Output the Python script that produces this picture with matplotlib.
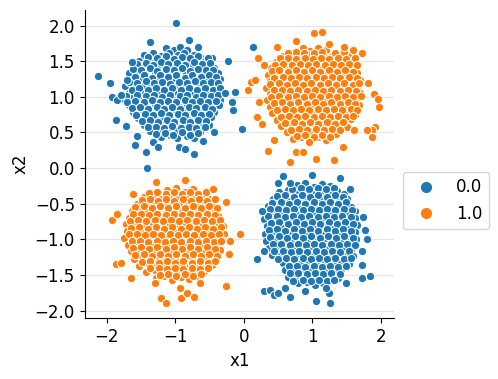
#!/usr/bin/env python3
#encoding: utf-8

import matplotlib
matplotlib.use("Agg")
import matplotlib.pyplot as plt
from matplotlib.lines import Line2D
import numpy as np

# ---------------------------------------------------------------------------
# DATA
# ---------------------------------------------------------------------------
# top-left cluster, class 0.0
top_left = [
    (-1.13, 1.69), (-1.01, 1.66), (-0.93, 1.70), (-0.83, 1.65),
    (-1.46, 1.58), (-1.33, 1.62), (-1.20, 1.57), (-1.09, 1.61), (-0.96, 1.58), (-0.87, 1.62), (-0.73, 1.59), (-0.63, 1.56),
    (-1.53, 1.50), (-1.39, 1.54), (-1.29, 1.49), (-1.16, 1.53), (-1.06, 1.50), (-0.92, 1.54), (-0.80, 1.49), (-0.71, 1.53), (-0.56, 1.50), (-0.46, 1.54),
    (-1.61, 1.42), (-1.47, 1.45), (-1.38, 1.40), (-1.24, 1.44), (-1.15, 1.41), (-1.00, 1.45), (-0.91, 1.41), (-0.77, 1.44), (-0.67, 1.40), (-0.54, 1.45), (-0.43, 1.41),
    (-1.67, 1.33), (-1.54, 1.36), (-1.44, 1.31), (-1.30, 1.35), (-1.21, 1.32), (-1.07, 1.36), (-0.97, 1.31), (-0.84, 1.35), (-0.74, 1.32), (-0.60, 1.36), (-0.51, 1.31), (-0.37, 1.34),
    (-1.63, 1.24), (-1.50, 1.27), (-1.40, 1.22), (-1.26, 1.26), (-1.16, 1.23), (-1.02, 1.27), (-0.93, 1.22), (-0.79, 1.26), (-0.69, 1.23), (-0.56, 1.27), (-0.46, 1.22), (-0.35, 1.25),
    (-1.73, 1.15), (-1.59, 1.18), (-1.49, 1.14), (-1.35, 1.17), (-1.25, 1.13), (-1.11, 1.18), (-1.01, 1.14), (-0.87, 1.17), (-0.78, 1.13), (-0.63, 1.17), (-0.54, 1.14), (-0.40, 1.17),
    (-1.68, 1.06), (-1.58, 1.09), (-1.44, 1.05), (-1.34, 1.08), (-1.20, 1.04), (-1.10, 1.09), (-0.96, 1.05), (-0.86, 1.08), (-0.72, 1.04), (-0.62, 1.09), (-0.49, 1.05), (-0.40, 1.08), (-0.31, 1.04),
    (-1.75, 0.97), (-1.61, 1.00), (-1.51, 0.96), (-1.37, 0.99), (-1.27, 0.95), (-1.13, 1.00), (-1.03, 0.96), (-0.89, 0.99), (-0.79, 0.95), (-0.65, 0.99), (-0.56, 0.96), (-0.43, 0.99), (-0.34, 0.96),
    (-1.67, 0.88), (-1.54, 0.91), (-1.44, 0.87), (-1.30, 0.90), (-1.20, 0.86), (-1.06, 0.91), (-0.96, 0.87), (-0.82, 0.90), (-0.72, 0.86), (-0.59, 0.90), (-0.49, 0.87), (-0.36, 0.89),
    (-1.61, 0.79), (-1.47, 0.82), (-1.37, 0.78), (-1.23, 0.81), (-1.13, 0.77), (-0.99, 0.82), (-0.89, 0.78), (-0.75, 0.81), (-0.65, 0.77), (-0.51, 0.81), (-0.43, 0.78),
    (-1.54, 0.70), (-1.40, 0.73), (-1.30, 0.69), (-1.16, 0.72), (-1.06, 0.68), (-0.92, 0.72), (-0.82, 0.69), (-0.68, 0.72), (-0.58, 0.68), (-0.47, 0.71),
    (-1.46, 0.61), (-1.32, 0.64), (-1.22, 0.60), (-1.08, 0.63), (-0.98, 0.59), (-0.84, 0.63), (-0.74, 0.60), (-0.60, 0.63), (-0.51, 0.60),
    (-1.36, 0.52), (-1.22, 0.55), (-1.12, 0.51), (-0.98, 0.54), (-0.88, 0.50), (-0.74, 0.54), (-0.64, 0.51),
    (-1.21, 0.43), (-1.07, 0.46), (-0.97, 0.42), (-0.83, 0.45), (-0.72, 0.42),
    # fill
    (-1.40, 1.56), (-1.27, 1.54), (-1.14, 1.57), (-1.02, 1.53), (-0.90, 1.56), (-0.78, 1.54), (-0.66, 1.57), (-0.52, 1.55),
    (-1.56, 1.46), (-1.43, 1.48), (-1.32, 1.45), (-1.20, 1.49), (-1.10, 1.46), (-0.97, 1.48), (-0.85, 1.45), (-0.73, 1.49), (-0.61, 1.46), (-0.49, 1.48),
    (-1.62, 1.39), (-1.50, 1.37), (-1.37, 1.40), (-1.26, 1.36), (-1.13, 1.39), (-1.02, 1.37), (-0.90, 1.40), (-0.79, 1.36), (-0.66, 1.39), (-0.55, 1.37), (-0.44, 1.38),
    (-1.58, 1.28), (-1.46, 1.30), (-1.34, 1.27), (-1.22, 1.30), (-1.10, 1.28), (-0.98, 1.31), (-0.86, 1.27), (-0.75, 1.30), (-0.62, 1.28), (-0.51, 1.30), (-0.40, 1.28),
    (-1.67, 1.21), (-1.55, 1.19), (-1.43, 1.22), (-1.31, 1.19), (-1.19, 1.21), (-1.07, 1.18), (-0.95, 1.21), (-0.83, 1.19), (-0.71, 1.22), (-0.60, 1.19), (-0.48, 1.21), (-0.38, 1.19),
    (-1.63, 1.10), (-1.52, 1.12), (-1.40, 1.10), (-1.28, 1.13), (-1.16, 1.10), (-1.04, 1.12), (-0.92, 1.10), (-0.80, 1.12), (-0.68, 1.10), (-0.57, 1.13), (-0.45, 1.10), (-0.35, 1.12),
    (-1.71, 1.01), (-1.56, 1.03), (-1.43, 1.01), (-1.31, 1.03), (-1.19, 1.00), (-1.07, 1.03), (-0.93, 1.01), (-0.83, 1.03), (-0.70, 1.00), (-0.59, 1.03), (-0.47, 1.01), (-0.37, 1.02),
    (-1.70, 0.93), (-1.58, 0.94), (-1.46, 0.92), (-1.34, 0.95), (-1.22, 0.92), (-1.10, 0.94), (-0.99, 0.92), (-0.86, 0.95), (-0.75, 0.92), (-0.63, 0.94), (-0.52, 0.92), (-0.40, 0.94),
    (-1.63, 0.84), (-1.51, 0.85), (-1.40, 0.83), (-1.27, 0.86), (-1.16, 0.83), (-1.04, 0.85), (-0.93, 0.83), (-0.80, 0.86), (-0.69, 0.84), (-0.56, 0.85), (-0.46, 0.83),
    (-1.57, 0.75), (-1.44, 0.76), (-1.33, 0.74), (-1.20, 0.77), (-1.09, 0.74), (-0.96, 0.76), (-0.85, 0.74), (-0.72, 0.77), (-0.62, 0.74), (-0.50, 0.76),
    (-1.49, 0.66), (-1.36, 0.67), (-1.25, 0.65), (-1.12, 0.68), (-1.02, 0.65), (-0.89, 0.67), (-0.78, 0.65), (-0.66, 0.68), (-0.55, 0.66),
    (-1.40, 0.57), (-1.28, 0.58), (-1.16, 0.56), (-1.04, 0.59), (-0.92, 0.56), (-0.80, 0.58), (-0.69, 0.56), (-0.57, 0.58),
    (-1.28, 0.48), (-1.15, 0.49), (-1.03, 0.47), (-0.90, 0.50), (-0.78, 0.47), (-0.67, 0.49),
    # stragglers
    (-0.99, 2.03), (-2.13, 1.29), (-1.95, 1.20), (-1.92, 0.99), (-1.85, 0.96), (-1.79, 1.03), (-1.70, 1.23),
    (-1.86, 0.68), (-1.72, 0.59), (-1.58, 0.32), (-1.42, 0.23), (-1.41, 0.00), (-1.33, 0.36), (-1.36, 1.77),
    (-0.80, 1.80), (-0.67, 1.70), (-0.23, 1.50), (-0.13, 1.07), (-0.16, 0.82), (-0.02, 0.55), (-0.73, 0.19),
    (-0.43, 0.50), (-1.63, 1.49), (-0.27, 1.06), (0.13, 1.70), (-0.17, 0.92), (-1.55, 0.45), (-1.25, 0.30),
    (-0.95, 0.30), (-0.85, 0.27), (-0.60, 0.38),
]

# bottom-right cluster, class 0.0
bottom_right = [
    (0.78, -0.24), (0.90, -0.21), (1.02, -0.26), (1.14, -0.22), (1.26, -0.25),
    (0.52, -0.34), (0.64, -0.31), (0.76, -0.36), (0.88, -0.32), (1.00, -0.37), (1.12, -0.33), (1.24, -0.36), (1.36, -0.32), (1.46, -0.36),
    (0.43, -0.44), (0.55, -0.41), (0.67, -0.46), (0.79, -0.42), (0.91, -0.47), (1.03, -0.43), (1.15, -0.46), (1.27, -0.42), (1.39, -0.47), (1.51, -0.43),
    (0.36, -0.53), (0.48, -0.50), (0.60, -0.55), (0.72, -0.51), (0.84, -0.56), (0.96, -0.52), (1.08, -0.55), (1.20, -0.51), (1.32, -0.56), (1.44, -0.52), (1.56, -0.55),
    (0.32, -0.63), (0.44, -0.60), (0.56, -0.65), (0.68, -0.61), (0.80, -0.66), (0.92, -0.62), (1.04, -0.65), (1.16, -0.61), (1.28, -0.66), (1.40, -0.62), (1.52, -0.65), (1.62, -0.61),
    (0.30, -0.72), (0.42, -0.69), (0.54, -0.74), (0.66, -0.70), (0.78, -0.75), (0.90, -0.71), (1.02, -0.74), (1.14, -0.70), (1.26, -0.75), (1.38, -0.71), (1.50, -0.74), (1.62, -0.70),
    (0.34, -0.82), (0.46, -0.79), (0.58, -0.84), (0.70, -0.80), (0.82, -0.85), (0.94, -0.81), (1.06, -0.84), (1.18, -0.80), (1.30, -0.85), (1.42, -0.81), (1.54, -0.84), (1.65, -0.80),
    (0.31, -0.92), (0.43, -0.89), (0.55, -0.94), (0.67, -0.90), (0.79, -0.95), (0.91, -0.91), (1.03, -0.94), (1.15, -0.90), (1.27, -0.95), (1.39, -0.91), (1.51, -0.94), (1.63, -0.90),
    (0.33, -1.02), (0.45, -0.99), (0.57, -1.04), (0.69, -1.00), (0.81, -1.05), (0.93, -1.01), (1.05, -1.04), (1.17, -1.00), (1.29, -1.05), (1.41, -1.01), (1.53, -1.04), (1.64, -1.00),
    (0.37, -1.12), (0.49, -1.09), (0.61, -1.14), (0.73, -1.10), (0.85, -1.15), (0.97, -1.11), (1.09, -1.14), (1.21, -1.10), (1.33, -1.15), (1.45, -1.11), (1.57, -1.14),
    (0.41, -1.22), (0.53, -1.19), (0.65, -1.24), (0.77, -1.20), (0.89, -1.25), (1.01, -1.21), (1.13, -1.24), (1.25, -1.20), (1.37, -1.25), (1.49, -1.21), (1.60, -1.24),
    (0.58, -1.33), (0.70, -1.30), (0.82, -1.35), (0.94, -1.31), (1.06, -1.36), (1.18, -1.32), (1.30, -1.35), (1.42, -1.31), (1.53, -1.35),
    (0.60, -1.43), (0.72, -1.40), (0.84, -1.45), (0.96, -1.41), (1.08, -1.46), (1.20, -1.42), (1.32, -1.45), (1.44, -1.41),
    (0.65, -1.53), (0.77, -1.50), (0.89, -1.55), (1.01, -1.51), (1.13, -1.56), (1.25, -1.52), (1.37, -1.55),
    (0.80, -1.62), (0.92, -1.60), (1.04, -1.64), (1.16, -1.61),
    # fill
    (0.70, -0.29), (0.84, -0.28), (0.96, -0.30), (1.08, -0.28), (1.20, -0.30), (1.32, -0.28),
    (0.49, -0.39), (0.61, -0.38), (0.73, -0.40), (0.85, -0.38), (0.97, -0.40), (1.09, -0.38), (1.21, -0.40), (1.33, -0.38), (1.45, -0.40),
    (0.42, -0.49), (0.54, -0.48), (0.66, -0.50), (0.78, -0.48), (0.90, -0.50), (1.02, -0.48), (1.14, -0.50), (1.26, -0.48), (1.38, -0.50), (1.50, -0.48),
    (0.38, -0.58), (0.50, -0.57), (0.62, -0.59), (0.74, -0.57), (0.86, -0.59), (0.98, -0.57), (1.10, -0.59), (1.22, -0.57), (1.34, -0.59), (1.46, -0.57), (1.58, -0.59),
    (0.36, -0.68), (0.48, -0.67), (0.60, -0.69), (0.72, -0.67), (0.84, -0.69), (0.96, -0.67), (1.08, -0.69), (1.20, -0.67), (1.32, -0.69), (1.44, -0.67), (1.56, -0.69),
    (0.40, -0.77), (0.52, -0.76), (0.64, -0.78), (0.76, -0.76), (0.88, -0.78), (1.00, -0.76), (1.12, -0.78), (1.24, -0.76), (1.36, -0.78), (1.48, -0.76), (1.60, -0.78),
    (0.37, -0.87), (0.49, -0.86), (0.61, -0.88), (0.73, -0.86), (0.85, -0.88), (0.97, -0.86), (1.09, -0.88), (1.21, -0.86), (1.33, -0.88), (1.45, -0.86), (1.57, -0.88),
    (0.39, -0.97), (0.51, -0.96), (0.63, -0.98), (0.75, -0.96), (0.87, -0.98), (0.99, -0.96), (1.11, -0.98), (1.23, -0.96), (1.35, -0.98), (1.47, -0.96), (1.59, -0.98),
    (0.43, -1.07), (0.55, -1.06), (0.67, -1.08), (0.79, -1.06), (0.91, -1.08), (1.03, -1.06), (1.15, -1.08), (1.27, -1.06), (1.39, -1.08), (1.51, -1.06), (1.62, -1.08),
    (0.45, -1.17), (0.57, -1.16), (0.69, -1.18), (0.81, -1.16), (0.93, -1.18), (1.05, -1.16), (1.17, -1.18), (1.29, -1.16), (1.41, -1.18), (1.53, -1.16),
    (0.50, -1.27), (0.62, -1.26), (0.74, -1.28), (0.86, -1.26), (0.98, -1.28), (1.10, -1.26), (1.22, -1.28), (1.34, -1.26), (1.46, -1.28), (1.57, -1.26),
    (0.66, -1.38), (0.78, -1.37), (0.90, -1.39), (1.02, -1.37), (1.14, -1.39), (1.26, -1.37), (1.38, -1.39), (1.49, -1.37),
    (0.68, -1.48), (0.80, -1.47), (0.92, -1.49), (1.04, -1.47), (1.16, -1.49), (1.28, -1.47), (1.40, -1.49),
    (0.72, -1.58), (0.86, -1.57), (0.98, -1.59), (1.10, -1.57), (1.22, -1.59), (1.32, -1.57),
    # stragglers
    (0.58, -0.11), (1.00, -0.10), (1.41, -0.14), (0.50, -0.21), (0.67, -0.21), (0.27, -0.60), (0.19, -1.27),
    (0.29, -1.16), (0.29, -1.72), (0.39, -1.71), (0.44, -1.78), (0.50, -1.75), (0.60, -1.68), (0.68, -1.81),
    (1.06, -1.86), (1.26, -1.89), (1.73, -1.54), (1.85, -1.52), (1.74, -0.69), (1.77, -0.87), (1.80, -0.99),
    (1.73, -1.17), (1.72, -1.36), (1.24, -1.76), (1.20, -1.69), (1.55, -0.30), (1.50, -1.62), (0.90, -1.72),
]

# top-right cluster, class 1.0
top_right = [
    (0.86, 1.68), (0.97, 1.64), (1.08, 1.69), (1.20, 1.65),
    (0.58, 1.57), (0.70, 1.61), (0.81, 1.56), (0.93, 1.60), (1.05, 1.55), (1.16, 1.59), (1.28, 1.56), (1.40, 1.60), (1.52, 1.57),
    (0.47, 1.49), (0.59, 1.52), (0.71, 1.47), (0.83, 1.51), (0.95, 1.46), (1.07, 1.50), (1.19, 1.47), (1.31, 1.51), (1.43, 1.46), (1.56, 1.50),
    (0.40, 1.40), (0.52, 1.43), (0.64, 1.38), (0.76, 1.42), (0.88, 1.37), (1.00, 1.41), (1.12, 1.38), (1.24, 1.42), (1.36, 1.37), (1.48, 1.41), (1.60, 1.38),
    (0.35, 1.31), (0.46, 1.34), (0.58, 1.29), (0.70, 1.33), (0.82, 1.28), (0.94, 1.32), (1.06, 1.29), (1.18, 1.33), (1.30, 1.28), (1.42, 1.32), (1.54, 1.29), (1.66, 1.33),
    (0.39, 1.22), (0.51, 1.25), (0.63, 1.20), (0.75, 1.24), (0.87, 1.19), (0.99, 1.23), (1.11, 1.20), (1.23, 1.24), (1.35, 1.19), (1.47, 1.23), (1.59, 1.20), (1.70, 1.24),
    (0.33, 1.13), (0.45, 1.16), (0.57, 1.11), (0.69, 1.15), (0.81, 1.10), (0.93, 1.14), (1.05, 1.11), (1.17, 1.15), (1.29, 1.10), (1.41, 1.14), (1.53, 1.11), (1.65, 1.15),
    (0.38, 1.04), (0.50, 1.07), (0.62, 1.02), (0.74, 1.06), (0.86, 1.01), (0.98, 1.05), (1.10, 1.02), (1.22, 1.06), (1.34, 1.01), (1.46, 1.05), (1.58, 1.02), (1.70, 1.06),
    (0.34, 0.95), (0.46, 0.98), (0.58, 0.93), (0.70, 0.97), (0.82, 0.92), (0.94, 0.96), (1.06, 0.93), (1.18, 0.97), (1.30, 0.92), (1.42, 0.96), (1.54, 0.93), (1.66, 0.97),
    (0.38, 0.86), (0.50, 0.89), (0.62, 0.84), (0.74, 0.88), (0.86, 0.83), (0.98, 0.87), (1.10, 0.84), (1.22, 0.88), (1.34, 0.83), (1.46, 0.87), (1.58, 0.84), (1.68, 0.88),
    (0.42, 0.77), (0.54, 0.80), (0.66, 0.75), (0.78, 0.79), (0.90, 0.74), (1.02, 0.78), (1.14, 0.75), (1.26, 0.79), (1.38, 0.74), (1.50, 0.78), (1.62, 0.75),
    (0.48, 0.68), (0.60, 0.71), (0.72, 0.66), (0.84, 0.70), (0.96, 0.65), (1.08, 0.69), (1.20, 0.66), (1.32, 0.70), (1.44, 0.65), (1.56, 0.69),
    (0.55, 0.59), (0.67, 0.62), (0.79, 0.57), (0.91, 0.61), (1.03, 0.56), (1.15, 0.60), (1.27, 0.57), (1.39, 0.61), (1.51, 0.58),
    (0.63, 0.50), (0.75, 0.53), (0.87, 0.48), (0.99, 0.52), (1.11, 0.47), (1.23, 0.51), (1.35, 0.48),
    (0.72, 0.41), (0.84, 0.44), (0.96, 0.39), (1.08, 0.43), (1.20, 0.40),
    # fill
    (0.64, 1.62), (0.76, 1.63), (0.88, 1.61), (1.02, 1.62), (1.14, 1.63), (1.34, 1.62), (1.46, 1.63),
    (0.53, 1.54), (0.65, 1.55), (0.77, 1.53), (0.89, 1.55), (1.01, 1.53), (1.13, 1.55), (1.25, 1.53), (1.37, 1.55), (1.49, 1.53), (1.62, 1.54),
    (0.46, 1.45), (0.58, 1.46), (0.70, 1.44), (0.82, 1.46), (0.94, 1.44), (1.06, 1.46), (1.18, 1.44), (1.30, 1.46), (1.42, 1.44), (1.54, 1.46), (1.65, 1.44),
    (0.41, 1.36), (0.52, 1.37), (0.64, 1.35), (0.76, 1.37), (0.88, 1.35), (1.00, 1.37), (1.12, 1.35), (1.24, 1.37), (1.36, 1.35), (1.48, 1.37), (1.60, 1.35),
    (0.45, 1.27), (0.57, 1.28), (0.69, 1.26), (0.81, 1.28), (0.93, 1.26), (1.05, 1.28), (1.17, 1.26), (1.29, 1.28), (1.41, 1.26), (1.53, 1.28), (1.65, 1.26),
    (0.39, 1.18), (0.51, 1.19), (0.63, 1.17), (0.75, 1.19), (0.87, 1.17), (0.99, 1.19), (1.11, 1.17), (1.23, 1.19), (1.35, 1.17), (1.47, 1.19), (1.59, 1.17), (1.69, 1.19),
    (0.44, 1.09), (0.56, 1.10), (0.68, 1.08), (0.80, 1.10), (0.92, 1.08), (1.04, 1.10), (1.16, 1.08), (1.28, 1.10), (1.40, 1.08), (1.52, 1.10), (1.64, 1.08),
    (0.40, 1.00), (0.52, 1.01), (0.64, 0.99), (0.76, 1.01), (0.88, 0.99), (1.00, 1.01), (1.12, 0.99), (1.24, 1.01), (1.36, 0.99), (1.48, 1.01), (1.60, 0.99), (1.71, 1.01),
    (0.44, 0.91), (0.56, 0.92), (0.68, 0.90), (0.80, 0.92), (0.92, 0.90), (1.04, 0.92), (1.16, 0.90), (1.28, 0.92), (1.40, 0.90), (1.52, 0.92), (1.62, 0.90),
    (0.48, 0.82), (0.60, 0.83), (0.72, 0.81), (0.84, 0.83), (0.96, 0.81), (1.08, 0.83), (1.20, 0.81), (1.32, 0.83), (1.44, 0.81), (1.56, 0.83), (1.66, 0.81),
    (0.54, 0.72), (0.66, 0.73), (0.78, 0.71), (0.90, 0.73), (1.02, 0.71), (1.14, 0.73), (1.26, 0.71), (1.38, 0.73), (1.50, 0.71), (1.60, 0.73),
    (0.61, 0.63), (0.73, 0.64), (0.85, 0.62), (0.97, 0.64), (1.09, 0.62), (1.21, 0.64), (1.33, 0.62), (1.45, 0.64),
    (0.69, 0.54), (0.81, 0.55), (0.93, 0.53), (1.05, 0.55), (1.17, 0.53), (1.29, 0.55), (1.41, 0.53),
    (0.78, 0.45), (0.90, 0.46), (1.02, 0.44), (1.14, 0.46), (1.26, 0.44),
    # stragglers
    (1.03, 1.89), (1.14, 1.91), (0.77, 1.78), (0.48, 1.70), (1.24, 1.74), (1.73, 1.62), (0.06, 1.09),
    (0.11, 1.21), (0.16, 1.24), (0.21, 1.54), (0.22, 0.92), (0.20, 0.71), (0.36, 0.24), (0.67, 0.08),
    (1.06, 0.12), (1.32, 0.11), (1.45, 0.30), (1.90, 1.04), (1.98, 0.86), (1.96, 0.97), (1.92, 0.58),
    (1.88, 0.53), (1.88, 0.43), (1.80, 0.53), (0.44, 0.39), (0.77, 0.22), (0.87, 0.22), (0.96, 0.36),
    (1.61, 0.54), (1.82, 1.19), (1.46, 1.70), (1.60, 1.66), (0.30, 1.45), (0.27, 0.62),
]

# bottom-left cluster, class 1.0
bottom_left = [
    (-1.12, -0.31), (-0.98, -0.28), (-0.86, -0.33), (-0.74, -0.29),
    (-1.45, -0.41), (-1.32, -0.38), (-1.21, -0.43), (-1.08, -0.39), (-0.96, -0.44), (-0.84, -0.40), (-0.72, -0.42), (-0.60, -0.38), (-0.50, -0.43),
    (-1.55, -0.51), (-1.42, -0.48), (-1.31, -0.53), (-1.18, -0.49), (-1.06, -0.54), (-0.94, -0.50), (-0.82, -0.53), (-0.70, -0.49), (-0.58, -0.54), (-0.46, -0.50),
    (-1.63, -0.60), (-1.50, -0.57), (-1.39, -0.62), (-1.26, -0.58), (-1.14, -0.63), (-1.02, -0.59), (-0.90, -0.62), (-0.78, -0.58), (-0.66, -0.63), (-0.54, -0.59), (-0.42, -0.62),
    (-1.68, -0.70), (-1.56, -0.67), (-1.44, -0.72), (-1.32, -0.68), (-1.20, -0.73), (-1.08, -0.69), (-0.96, -0.72), (-0.84, -0.68), (-0.72, -0.73), (-0.60, -0.69), (-0.48, -0.72), (-0.37, -0.68),
    (-1.72, -0.79), (-1.60, -0.76), (-1.48, -0.81), (-1.36, -0.77), (-1.24, -0.82), (-1.12, -0.78), (-1.00, -0.81), (-0.88, -0.77), (-0.76, -0.82), (-0.64, -0.78), (-0.52, -0.81), (-0.40, -0.77), (-0.30, -0.82),
    (-1.70, -0.89), (-1.58, -0.86), (-1.46, -0.91), (-1.34, -0.87), (-1.22, -0.92), (-1.10, -0.88), (-0.98, -0.91), (-0.86, -0.87), (-0.74, -0.92), (-0.62, -0.88), (-0.50, -0.91), (-0.38, -0.87), (-0.28, -0.92),
    (-1.74, -0.98), (-1.62, -0.95), (-1.50, -1.00), (-1.38, -0.96), (-1.26, -1.01), (-1.14, -0.97), (-1.02, -1.00), (-0.90, -0.96), (-0.78, -1.01), (-0.66, -0.97), (-0.54, -1.00), (-0.42, -0.96), (-0.32, -1.01),
    (-1.69, -1.08), (-1.57, -1.05), (-1.45, -1.10), (-1.33, -1.06), (-1.21, -1.11), (-1.09, -1.07), (-0.97, -1.10), (-0.85, -1.06), (-0.73, -1.11), (-0.61, -1.07), (-0.49, -1.10), (-0.38, -1.06),
    (-1.65, -1.17), (-1.53, -1.14), (-1.41, -1.19), (-1.29, -1.15), (-1.17, -1.20), (-1.05, -1.16), (-0.93, -1.19), (-0.81, -1.15), (-0.69, -1.20), (-0.57, -1.16), (-0.45, -1.19), (-0.35, -1.15),
    (-1.60, -1.27), (-1.48, -1.24), (-1.36, -1.29), (-1.24, -1.25), (-1.12, -1.30), (-1.00, -1.26), (-0.88, -1.29), (-0.76, -1.25), (-0.64, -1.30), (-0.52, -1.26), (-0.42, -1.29),
    (-1.52, -1.37), (-1.40, -1.34), (-1.28, -1.39), (-1.16, -1.35), (-1.04, -1.40), (-0.92, -1.36), (-0.80, -1.39), (-0.68, -1.35), (-0.56, -1.40), (-0.46, -1.36),
    (-1.42, -1.46), (-1.30, -1.43), (-1.18, -1.48), (-1.06, -1.44), (-0.94, -1.49), (-0.82, -1.45), (-0.70, -1.48), (-0.58, -1.44),
    (-1.28, -1.55), (-1.16, -1.52), (-1.04, -1.57), (-0.92, -1.53), (-0.80, -1.56), (-0.68, -1.52),
    # fill
    (-1.38, -0.35), (-1.26, -0.34), (-1.14, -0.36), (-1.02, -0.34), (-0.90, -0.36), (-0.78, -0.34), (-0.66, -0.36), (-0.55, -0.34),
    (-1.49, -0.45), (-1.37, -0.44), (-1.25, -0.46), (-1.13, -0.44), (-1.01, -0.46), (-0.89, -0.44), (-0.77, -0.46), (-0.65, -0.44), (-0.53, -0.46), (-0.42, -0.44),
    (-1.58, -0.55), (-1.46, -0.54), (-1.34, -0.56), (-1.22, -0.54), (-1.10, -0.56), (-0.98, -0.54), (-0.86, -0.56), (-0.74, -0.54), (-0.62, -0.56), (-0.50, -0.54), (-0.39, -0.56),
    (-1.62, -0.65), (-1.50, -0.64), (-1.38, -0.66), (-1.26, -0.64), (-1.14, -0.66), (-1.02, -0.64), (-0.90, -0.66), (-0.78, -0.64), (-0.66, -0.66), (-0.54, -0.64), (-0.42, -0.66),
    (-1.66, -0.74), (-1.54, -0.73), (-1.42, -0.75), (-1.30, -0.73), (-1.18, -0.75), (-1.06, -0.73), (-0.94, -0.75), (-0.82, -0.73), (-0.70, -0.75), (-0.58, -0.73), (-0.46, -0.75), (-0.35, -0.73),
    (-1.64, -0.84), (-1.52, -0.83), (-1.40, -0.85), (-1.28, -0.83), (-1.16, -0.85), (-1.04, -0.83), (-0.92, -0.85), (-0.80, -0.83), (-0.68, -0.85), (-0.56, -0.83), (-0.44, -0.85), (-0.33, -0.83),
    (-1.68, -0.93), (-1.56, -0.92), (-1.44, -0.94), (-1.32, -0.92), (-1.20, -0.94), (-1.08, -0.92), (-0.96, -0.94), (-0.84, -0.92), (-0.72, -0.94), (-0.60, -0.92), (-0.48, -0.94), (-0.36, -0.92),
    (-1.63, -1.03), (-1.51, -1.02), (-1.39, -1.04), (-1.27, -1.02), (-1.15, -1.04), (-1.03, -1.02), (-0.91, -1.04), (-0.79, -1.02), (-0.67, -1.04), (-0.55, -1.02), (-0.43, -1.04), (-0.33, -1.02),
    (-1.62, -1.12), (-1.50, -1.11), (-1.38, -1.13), (-1.26, -1.11), (-1.14, -1.13), (-1.02, -1.11), (-0.90, -1.13), (-0.78, -1.11), (-0.66, -1.13), (-0.54, -1.11), (-0.42, -1.13),
    (-1.58, -1.22), (-1.46, -1.21), (-1.34, -1.23), (-1.22, -1.21), (-1.10, -1.23), (-0.98, -1.21), (-0.86, -1.23), (-0.74, -1.21), (-0.62, -1.23), (-0.50, -1.21), (-0.39, -1.23),
    (-1.48, -1.32), (-1.36, -1.31), (-1.24, -1.33), (-1.12, -1.31), (-1.00, -1.33), (-0.88, -1.31), (-0.76, -1.33), (-0.64, -1.31), (-0.52, -1.33), (-0.42, -1.31),
    (-1.36, -1.41), (-1.24, -1.40), (-1.12, -1.42), (-1.00, -1.40), (-0.88, -1.42), (-0.76, -1.40), (-0.64, -1.42), (-0.52, -1.40),
    (-1.22, -1.50), (-1.10, -1.49), (-0.98, -1.51), (-0.86, -1.49), (-0.74, -1.51), (-0.62, -1.49),
    # stragglers
    (-0.86, -0.17), (-1.28, -0.20), (-1.92, -0.73), (-1.85, -0.65), (-0.06, -0.93), (-1.86, -1.35), (-1.79, -1.34),
    (-1.65, -1.54), (-0.26, -1.66), (-1.21, -1.83), (-1.13, -1.90), (-0.91, -1.82), (-0.82, -1.75), (-0.72, -1.81),
    (-0.26, -0.47), (-0.20, -1.02), (-0.22, -1.21), (-1.62, -0.37), (-0.93, -1.68), (-0.64, -1.62), (-0.45, -0.30),
    (-1.30, -1.62),
]

class_labels = ["0.0", "1.0"]
# ---------------------------------------------------------------------------

class0 = np.array(top_left + bottom_right)
class1 = np.array(top_right + bottom_left)

plt.rcParams["font.size"] = 12

fig = plt.figure(figsize=(4.98, 3.79), dpi=100)
ax = fig.add_axes([0.170, 0.160, 0.622, 0.814])

ax.scatter(class0[:, 0], class0[:, 1], s=36, c="C0", edgecolors="white", linewidths=0.75, zorder=2)
ax.scatter(class1[:, 0], class1[:, 1], s=36, c="C1", edgecolors="white", linewidths=0.75, zorder=2)

ax.set_xlim(-2.32, 2.20)
ax.set_ylim(-2.11, 2.22)
ax.set_xticks(np.arange(-2, 2.1, 1))
ax.set_yticks(np.arange(-2, 2.1, 0.5))
ax.yaxis.grid(True, color="#e5e5e5", linewidth=0.8)
ax.set_axisbelow(True)
ax.spines["top"].set_visible(False)
ax.spines["right"].set_visible(False)
ax.set_xlabel("x1")
ax.set_ylabel("x2")

handles = [Line2D([], [], marker="o", linestyle="", color=c, markersize=7)
           for c in ["C0", "C1"]]
ax.legend(handles, class_labels, loc="upper left", bbox_to_anchor=(1.027, 0.475),
          borderaxespad=0)

fig.savefig("out.png", dpi=100)
